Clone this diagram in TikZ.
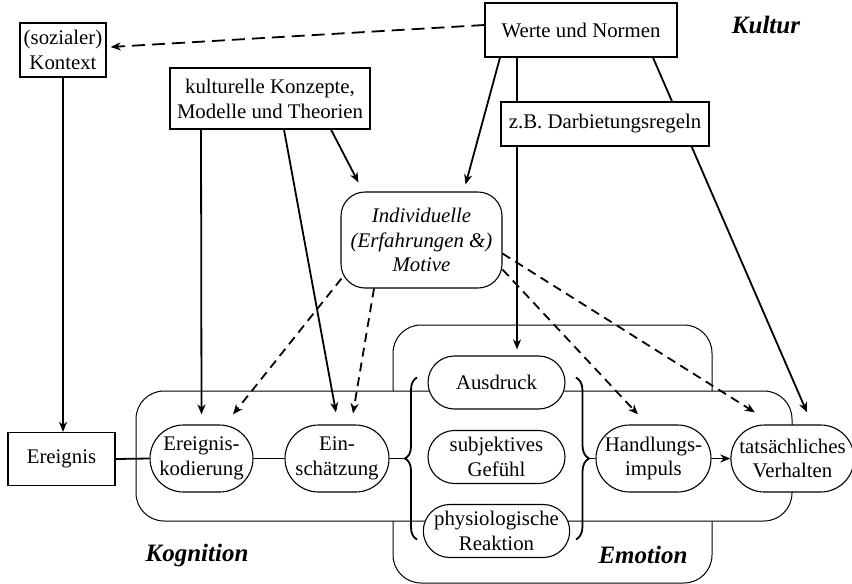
\documentclass[tikz,border=0pt]{standalone}
\usepackage{fontspec}
\setmainfont{Liberation Serif}
\usetikzlibrary{arrows.meta,shapes.misc,backgrounds,decorations.pathreplacing}
\begin{document}
\begin{tikzpicture}[x=0.5pt,y=-0.5pt,
  every node/.style={font=\fontsize{10.4}{12.4}\selectfont, align=center, inner sep=1pt},
  box/.style={draw, line width=0.6pt, fill=white, rectangle},
  pill/.style={draw, line width=0.55pt, fill=white, rounded rectangle, minimum height=33.5pt},
  pillsm/.style={draw, line width=0.55pt, fill=white, rounded rectangle, minimum height=26.5pt, minimum width=70.5pt},
  frame/.style={draw, line width=0.5pt, rounded corners=14pt},
  arr/.style={line width=0.9pt, -{Stealth[length=5pt,width=4pt,inset=1.5pt]}},
  darr/.style={arr, dash pattern=on 4.5pt off 3pt},
  lnk/.style={line width=0.9pt},
  title/.style={font=\fontsize{12.5}{14}\selectfont\bfseries\itshape}
]
\useasboundingbox (0,0) rectangle (852,584);

% nodes
\node[box, minimum width=43pt, minimum height=27pt] (kontext) at (63,50) {(sozialer)\\Kontext};
\node[box, minimum width=96pt, minimum height=27pt] (werte) at (581,30) {Werte und Normen};
\node[box, minimum width=100pt, minimum height=30.5pt] (konzepte) at (270,98.5) {kulturelle Konzepte,\\Modelle und Theorien};
\node[box, minimum width=104pt, minimum height=22pt] (darb) at (605,124) {z.B. Darbietungsregeln};
\node[draw, line width=0.55pt, fill=white, rounded corners=12pt, minimum width=80.5pt, minimum height=48pt, font=\fontsize{10.4}{12.4}\selectfont\itshape] (indiv) at (421.5,240) {Individuelle\\(Erfahrungen \&)\\Motive};
\node[box, minimum width=53.5pt, minimum height=26.5pt] (ereignis) at (61.5,459) {Ereignis};
\node[pill, minimum width=53.5pt] (kodierung) at (201.5,458.5) {Ereignis-\\kodierung};
\node[pill, minimum width=54pt] (einsch) at (337,458.5) {Ein-\\schätzung};
\node[pillsm] (ausdruck) at (496.5,382.5) {Ausdruck};
\node[pillsm] (gefuehl) at (496.5,457) {subjektives\\Gefühl};
\node[pillsm] (physio) at (496.5,531) {physiologische\\Reaktion};
\node[pill, minimum width=59.5pt] (handlung) at (653.5,458.5) {Handlungs-\\impuls};
\node[pill, minimum width=58.5pt] (tats) at (792.5,458.5) {tatsächliches\\Verhalten};

\node[title] (kultur) at (766,25) {Kultur};
\node[title] (kognition) at (197,555) {Kognition};
\node[title] (emotion) at (643,555) {Emotion};

% frames and lines behind boxes
\begin{pgfonlayer}{background}
  \draw[frame] (393,325) rectangle (712,583);
  \draw[frame, fill=white] (136,391) rectangle (792,521);
  \draw[arr] ([shift={(-64,0)}]werte.south) -- ([shift={(20.5,-6)}]ausdruck.north);
  \draw[arr] ([shift={(72,0)}]werte.south) -- ([shift={(14.5,-12)}]tats.north);
\end{pgfonlayer}

% braces
\coordinate (lb) at (405,458.5);
\coordinate (rb) at (589,458.5);
\draw[lnk, decorate, decoration={brace, amplitude=6pt}] (417,539.5) -- (417,377.5);
\draw[lnk, decorate, decoration={brace, amplitude=6.5pt}] (576,377.5) -- (576,539.5);

% chain
\draw[lnk] (ereignis.east) -- (kodierung.west);
\draw[lnk] (kodierung.east) -- (einsch.west);
\draw[lnk] (einsch.east) -- (lb);
\draw[lnk] (rb) -- (handlung.west);
\draw[arr] (handlung.east) -- (tats.west);

% solid arrows
\draw[darr, dash pattern=on 6.5pt off 3.5pt] ([shift={(0,-5)}]werte.west) -- ([shift={(4,-3)}]kontext.east);
\draw[arr] (kontext.south) -- (kontext.south |- ereignis.north);
\draw[arr] ([shift={(-69,0)}]konzepte.south) -- ([shift={(0,-10)}]kodierung.north);
\draw[arr] ([shift={(14,0)}]konzepte.south) -- ([shift={(-1,-12)}]einsch.north);
\draw[arr] ([shift={(61,0)}]konzepte.south) -- ([shift={(18,-9)}]indiv.north west);
\draw[arr] ([shift={(-81,0)}]werte.south) -- ([shift={(-37,-7)}]indiv.north east);

% dashed arrows from Individuelle
\draw[darr] ([shift={(1,-10)}]indiv.south west) -- ([shift={(31.5,-10)}]kodierung.north);
\draw[darr] ([shift={(-47.5,0)}]indiv.south) -- ([shift={(16,-11)}]einsch.north);
\draw[darr] ([shift={(0,-19)}]indiv.south east) -- ([shift={(-15.5,-10)}]handlung.north);
\draw[darr] ([shift={(0,-35)}]indiv.south east) -- ([shift={(-37.5,-12)}]tats.north);
\end{tikzpicture}
\end{document}
